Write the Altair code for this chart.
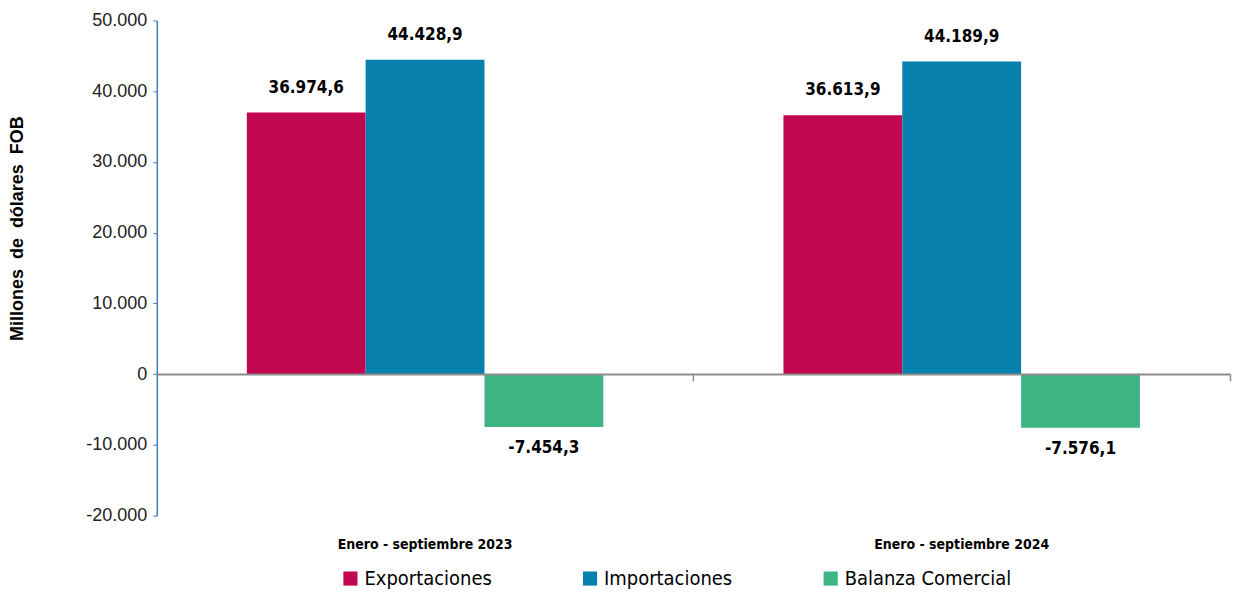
import altair as alt
import pandas as pd

periods = ["Enero - septiembre 2023", "Enero - septiembre 2024"]
series = ["Exportaciones", "Importaciones", "Balanza Comercial"]
exportaciones = [36974.6, 36613.9]
importaciones = [44428.9, 44189.9]
balanza = [-7454.3, -7576.1]
y_ticks = [-20000, -10000, 0, 10000, 20000, 30000, 40000, 50000]
colors = ["#C0074F", "#0880AD", "#3EB584"]


def es_fmt(v):
    s = f"{v:,.1f}"
    return s.replace(",", "X").replace(".", ",").replace("X", ".")


rows = []
for i, p in enumerate(periods):
    for s, vals in zip(series, [exportaciones, importaciones, balanza]):
        rows.append({"periodo": p, "serie": s, "valor": vals[i], "label": es_fmt(vals[i])})
df = pd.DataFrame(rows)

LABEL_FONT = "DejaVu Sans Condensed, Liberation Sans"

x_enc = alt.X(
    "periodo:N",
    sort=periods,
    scale=alt.Scale(paddingInner=0, paddingOuter=0),
    axis=alt.Axis(
        title=None,
        orient="bottom",
        offset=-142,
        domainColor="#8C8C8C",
        domainWidth=2,
        tickColor="#8C8C8C",
        tickWidth=1.5,
        tickSize=7,
        bandPosition=1,
        labelPadding=157,
        labelBaseline="top",
        labelFont=LABEL_FONT,
        labelFontWeight="bold",
        labelFontSize=14,
        labelColor="#000000",
        labelAngle=0,
        zindex=1,
    ),
)
xoff = alt.XOffset("serie:N", sort=series, scale=alt.Scale(paddingInner=0, paddingOuter=0.758))
y_enc = alt.Y(
    "valor:Q",
    scale=alt.Scale(domain=[-20000, 50000], nice=False),
    axis=alt.Axis(
        values=y_ticks,
        grid=False,
        title="Millones\u00a0 de\u00a0 dólares\u00a0 FOB",
        titleFont="Liberation Sans",
        titleFontWeight="bold",
        titleFontSize=18,
        titleColor="#000000",
        titleAngle=270,
        titleX=-139,
        titleY=208,
        titleAlign="center",
        titleBaseline="middle",
        labelFont="Liberation Sans",
        labelFontSize=18,
        labelColor="#222222",
        labelPadding=6,
        labelExpr="(datum.value < 0 ? '-' : '') + replace(format(abs(datum.value), ',.0f'), /,/g, '.')",
        domainColor="#4A7EBB",
        domainWidth=1.5,
        tickColor="#4A7EBB",
        tickSize=4,
    ),
)

color_enc = alt.Color(
    "serie:N",
    sort=series,
    scale=alt.Scale(domain=series, range=colors),
    legend=alt.Legend(
        title=None,
        orient="none",
        direction="horizontal",
        legendX=184,
        legendY=549,
        symbolType="square",
        symbolSize=200,
        symbolStrokeWidth=0,
        symbolOpacity=1,
        labelFont=LABEL_FONT,
        labelFontSize=20,
        labelColor="#000000",
        labelOffset=4,
        labelLimit=400,
        columnPadding=88,
        padding=0,
    ),
)

bars = alt.Chart(df).mark_bar(opacity=1).encode(
    x=x_enc, xOffset=xoff, y=y_enc, color=color_enc
)

text_pos = alt.Chart(df).transform_filter("datum.valor >= 0").mark_text(
    font=LABEL_FONT, fontWeight="bold", fontSize=17, baseline="bottom", dy=-16, color="#000000"
).encode(x=alt.X("periodo:N", sort=periods), xOffset=alt.XOffset("serie:N", sort=series), y="valor:Q", text="label:N")

text_neg = alt.Chart(df).transform_filter("datum.valor < 0").mark_text(
    font=LABEL_FONT, fontWeight="bold", fontSize=17, baseline="top", dy=13, color="#000000"
).encode(x=alt.X("periodo:N", sort=periods), xOffset=alt.XOffset("serie:N", sort=series), y="valor:Q", text="label:N")

chart = (
    alt.layer(bars, text_pos, text_neg)
    .properties(
        width=1075,
        height=496,
        autosize=alt.AutoSizeParams(type="none"),
        padding={"left": 149, "top": 12, "right": 5, "bottom": 75},
        background="#FFFFFF",
    )
    .configure_view(strokeWidth=0, stroke="transparent")
)

chart.save("out.html", embed_options={"renderer": "svg", "actions": False})
